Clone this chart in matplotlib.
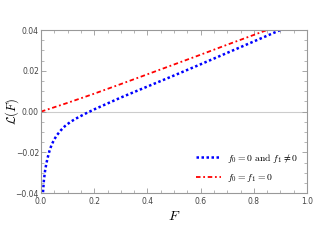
import matplotlib
matplotlib.use("Agg")
import matplotlib.pyplot as plt
import numpy as np
from matplotlib.ticker import MultipleLocator

plt.rcParams['mathtext.fontset'] = 'cm'

F_red = [0.0, 0.1, 0.2, 0.3, 0.4, 0.5, 0.6, 0.7, 0.8, 0.9, 1.0]
L_red = [0.0, 0.0043, 0.0088, 0.0135, 0.0183, 0.0231, 0.0279, 0.0328, 0.0376, 0.0424, 0.0472]

F_blue = [0.0075, 0.011, 0.015, 0.02, 0.025, 0.032, 0.04, 0.05, 0.06, 0.075, 0.09, 0.11, 0.13, 0.165,
          0.2, 0.25, 0.3, 0.4, 0.5, 0.6, 0.7, 0.8, 0.9, 1.0]
L_blue = [-0.0395, -0.0335, -0.0292, -0.0255, -0.0226, -0.0192, -0.0162, -0.0136, -0.0115, -0.0091,
          -0.0071, -0.0051, -0.0035, -0.0011, 0.0011, 0.0040, 0.0069, 0.0123, 0.0177, 0.0232,
          0.0288, 0.0344, 0.0400, 0.0456]

label_blue = r"$f_0=0\ \mathrm{and}\ f_1\neq0$"
label_red = r"$f_0=f_1=0$"

fig = plt.figure(figsize=(3.13, 2.5), dpi=100)
ax = fig.add_axes([0.131, 0.227, 0.85, 0.653])

ax.axhline(0, color="#cccccc", lw=0.8, zorder=0)
ax.plot(F_blue, L_blue, color="blue", ls=(0, (1, 1)), lw=1.8, label=label_blue)
ax.plot(F_red, L_red, color="red", ls=(0, (2.5, 1.5, 1, 1.5)), lw=1.3, label=label_red)

ax.set_xlim(0, 1)
ax.set_ylim(-0.04, 0.04)
ax.xaxis.set_major_locator(MultipleLocator(0.2))
ax.xaxis.set_minor_locator(MultipleLocator(0.05))
ax.yaxis.set_major_locator(MultipleLocator(0.02))
ax.yaxis.set_minor_locator(MultipleLocator(0.005))
ax.xaxis.set_major_formatter(matplotlib.ticker.FormatStrFormatter("%.1f"))
ax.yaxis.set_major_formatter(matplotlib.ticker.FuncFormatter(lambda v, p: ("%.2f" % v).replace("-", "\u2212")))

for s in ax.spines.values():
	s.set_color("#999999")
	s.set_linewidth(0.8)
ax.tick_params(which="both", direction="in", top=True, right=True, colors="#999999",
               labelcolor="#444444", labelsize=5.5, pad=1.5)
ax.tick_params(axis="x", which="major", pad=3)
ax.tick_params(which="major", length=3.5, width=0.6)
ax.tick_params(which="minor", length=2, width=0.5)

ax.set_xlabel(r"$F$", fontsize=10, labelpad=2)
ax.set_ylabel(r"$\mathcal{L}(F)$", fontsize=9)
ax.yaxis.set_label_coords(-0.075, 0.5)

ax.legend(loc="lower right", bbox_to_anchor=(1.0, 0.0), frameon=False, fontsize=7,
          handlelength=2.6, labelspacing=0.8, handletextpad=0.6)

plt.savefig("out.png", dpi=100)
